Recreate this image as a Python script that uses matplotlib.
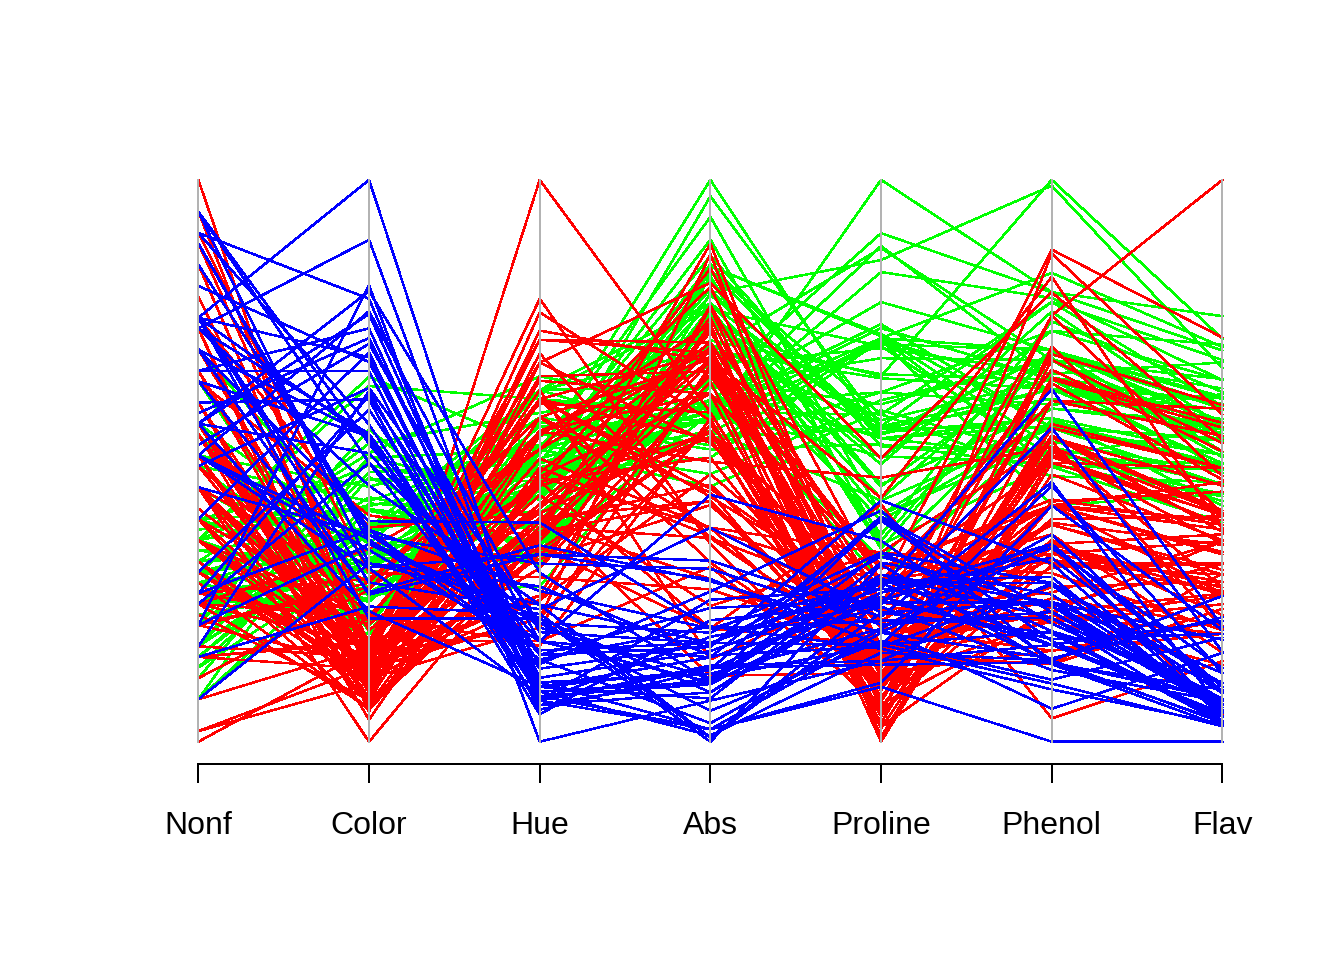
import matplotlib
matplotlib.use("Agg")
import matplotlib.pyplot as plt
import numpy as np

# Wine data (3 cultivars): columns shown in the parallel-coordinate plot
wine_class = [1] * 59 + [2] * 71 + [3] * 48

nonf = [
    .28, .26, .3, .24, .39, .34, .3, .31, .29, .22, .22, .26, .29, .43, .29, .3, .33, .4, .32, .17,
    .24, .25, .27, .26, .28, .47, .34, .27, .37, .26, .29, .22, .42, .5, .29, .26, .34, .29, .28, .2,
    .34, .27, .17, .32, .28, .3, .27, .21, .32, .32, .17, .22, .32, .39, .21, .2, .26, .31, .19,
    .28, .63, .53, .32, .19, .45, .37, .26, .27, .55, .14, .37, .21, .27, .21, .13, .34, .24, .43, .35,
    .43, .3, .26, .4, .61, .22, .3, .43, .4, .48, .42, .52, .5, .58, .25, .17, .32, .14, .29, .24,
    .45, .26, .29, .34, .37, .32, .66, .37, .48, .39, .29, .24, .26, .6, .42, .43, .52, .3, .34, .43,
    .37, .32, .47, .43, .3, .21, .37, .39, .58, .4, .42,
    .21, .24, .27, .17, .6, .63, .53, .63, .58, .53, .53, .37, .5, .47, .29, .43, .4, .47, .45, .34,
    .22, .24, .26, .61, .53, .61, .48, .63, .53, .52, .5, .5, .6, .4, .41, .52, .43, .4, .39, .27,
    .4, .48, .44, .52, .43, .43, .53, .56,
]

color = [
    5.64, 4.38, 5.68, 7.8, 4.32, 6.75, 5.25, 5.05, 5.2, 7.22, 5.75, 5, 5.6, 5.4, 7.5, 7.3, 6.2, 6.6, 8.7, 5.1,
    5.65, 4.5, 3.8, 3.93, 3.52, 3.58, 4.8, 3.95, 4.5, 4.7, 5.7, 6.9, 3.84, 5.4, 4.2, 5.1, 4.6, 4.25, 3.7, 5.1,
    6.13, 4.28, 5.43, 4.36, 5.04, 5.24, 4.9, 6.1, 6.2, 8.9, 7.2, 5.6, 7.05, 6.3, 5.85, 6.25, 6.38, 5.75, 6.8,
    1.95, 3.27, 5.75, 3.8, 4.45, 2.95, 4.6, 5.3, 4.68, 3.17, 2.85, 3.05, 3.38, 3.74, 3.35, 3.21, 3.8, 4.6, 2.65, 3.4,
    2.57, 2.5, 3.9, 2.2, 4.8, 3.05, 2.62, 2.45, 2.6, 2.8, 1.74, 2.4, 3.6, 3.05, 2.15, 3.25, 2.6, 2.5, 2.9, 4.5,
    2.3, 3.3, 2.45, 2.8, 2.06, 2.94, 2.7, 3.4, 3.3, 2.7, 2.65, 2.9, 2, 3.8, 3.08, 2.9, 1.9, 1.95, 2.06, 3.4,
    1.28, 3.25, 6, 2.08, 2.6, 2.8, 2.76, 3.94, 3, 2.12, 2.6,
    4.1, 5.4, 5.7, 5, 5.45, 7.1, 3.85, 5, 5.7, 4.92, 4.6, 5.6, 4.35, 4.4, 8.21, 4, 4.9, 7.65, 8.42, 9.4,
    8.6, 10.8, 7.1, 10.52, 7.6, 7.9, 9.01, 7.5, 13, 11.75, 7.65, 5.88, 5.58, 5.28, 9.58, 6.62, 10.68, 10.26, 8.66, 8.5,
    5.5, 9.9, 9.7, 7.7, 7.3, 10.2, 9.3, 9.2,
]

hue = [
    1.04, 1.05, 1.03, .86, 1.04, 1.05, 1.02, 1.06, 1.08, 1.01, 1.25, 1.17, 1.15, 1.25, 1.2, 1.28, 1.07, 1.13, 1.23, .96,
    1.09, 1.03, 1.11, 1.09, 1.12, 1.13, .92, 1.02, 1.25, 1.04, 1.19, 1.09, 1.23, 1.25, 1.1, 1.04, 1.09, 1.12, 1.18, .89,
    .95, .91, .88, .82, .88, .87, 1.04, .91, 1.07, 1.12, 1.12, 1.24, 1.01, 1.13, .92, .98, .94, 1.07, .89,
    1.05, 1.25, .98, 1.23, 1.22, 1.45, 1.19, 1.12, 1.12, 1.02, 1.28, .906, 1.36, .98, 1.31, .99, 1.23, 1.19, .96, 1.06,
    1.19, 1.38, 1.16, 1.31, .84, .79, 1.23, 1.33, 1.36, 1, 1.07, 1.08, 1.05, .96, 1.15, 1.16, 1.16, .95, 1.23, 1.04,
    1.42, 1.27, 1.04, .8, .94, 1.04, .86, 1, .88, .86, .96, .75, .9, 1.23, 1.1, .93, 1.71, .95, 1.06, .7,
    .93, .8, .93, .92, .73, .75, .86, .69, .97, .89, .79,
    .76, .74, .66, .78, .75, .73, .75, .82, .81, .89, .77, .7, .89, .91, .65, .6, .58, .54, .55, .57,
    .59, .48, .61, .56, .58, .6, .57, .67, .57, .57, .56, .96, .87, .68, .7, .78, .85, .72, .74, .67,
    .66, .57, .62, .64, .7, .59, .6, .61,
]

absorb = [
    3.92, 3.4, 3.17, 3.45, 2.93, 2.85, 3.58, 3.58, 2.85, 3.55, 3.17, 2.82, 2.9, 2.73, 3, 2.88, 2.65, 2.57, 2.82, 3.36,
    3.71, 3.52, 4, 3.63, 3.82, 3.2, 3.22, 2.77, 3.4, 3.59, 2.71, 2.88, 2.87, 3, 2.87, 3.47, 2.78, 2.51, 2.69, 3.53,
    3.38, 3, 3.56, 3, 3.35, 3.33, 3.44, 3.33, 2.75, 3.1, 2.91, 3.37, 3.26, 2.93, 3.2, 3.03, 3.31, 2.84, 2.87,
    1.82, 1.67, 1.59, 2.46, 2.87, 2.23, 2.3, 3.18, 3.48, 1.93, 3.07, 1.82, 3.16, 2.78, 3.5, 3.13, 2.14, 2.48, 2.52, 2.31,
    3.13, 3.12, 3.14, 2.72, 2.01, 3.08, 3.16, 2.26, 3.21, 2.75, 3.21, 2.27, 2.65, 2.06, 3.3, 2.96, 2.63, 2.26, 2.74, 2.77,
    2.83, 2.96, 2.77, 3.38, 2.44, 3.57, 3.3, 3.17, 2.42, 3.02, 3.26, 2.81, 2.78, 2.5, 2.31, 3.19, 2.87, 3.33, 2.96, 2.12,
    3.05, 3.39, 3.69, 3.12, 3.1, 3.64, 3.28, 2.84, 2.44, 2.78, 2.57,
    1.29, 1.42, 1.36, 1.29, 1.51, 1.58, 1.27, 1.69, 1.82, 2.15, 2.31, 2.47, 2.06, 2.05, 2, 1.68, 1.33, 1.86, 1.62, 1.33,
    1.3, 1.47, 1.33, 1.51, 1.55, 1.48, 1.64, 1.73, 1.96, 1.78, 1.58, 1.82, 2.11, 1.75, 1.68, 1.75, 1.56, 1.75, 1.8, 1.92,
    1.83, 1.63, 1.71, 1.74, 1.56, 1.56, 1.62, 1.6,
]

proline = [
    1065, 1050, 1185, 1480, 735, 1450, 1290, 1295, 1045, 1045, 1510, 1280, 1320, 1150, 1547, 1310, 1280, 1130, 1680, 845,
    780, 770, 1035, 1015, 845, 830, 1195, 1285, 915, 1035, 1285, 1515, 990, 1235, 1095, 920, 880, 1105, 1020, 760,
    795, 1035, 1095, 680, 885, 1080, 1065, 985, 1060, 1260, 1150, 1265, 1190, 1375, 1060, 1120, 970, 1270, 1285,
    520, 680, 450, 630, 420, 355, 678, 502, 510, 750, 718, 870, 410, 472, 985, 886, 428, 392, 500, 750,
    463, 278, 714, 630, 515, 520, 450, 495, 562, 680, 625, 480, 450, 495, 290, 345, 937, 625, 428, 660,
    406, 710, 562, 438, 415, 672, 315, 510, 488, 312, 680, 562, 325, 607, 434, 385, 407, 495, 345, 372,
    564, 625, 465, 365, 380, 380, 378, 352, 466, 342, 580,
    630, 530, 560, 600, 650, 695, 720, 515, 580, 590, 600, 780, 520, 550, 855, 830, 415, 625, 650, 550,
    500, 480, 425, 675, 640, 725, 480, 880, 660, 620, 520, 680, 570, 675, 615, 520, 695, 685, 750, 630,
    510, 470, 660, 740, 750, 835, 840, 560,
]

phenol = [
    2.8, 2.65, 2.8, 3.85, 2.8, 3.27, 2.5, 2.6, 2.8, 2.98, 2.95, 2.2, 2.6, 3.1, 3.3, 2.85, 2.8, 2.95, 3.3, 2.7,
    3, 2.41, 2.61, 2.48, 2.53, 2.63, 2.85, 2.4, 2.95, 2.65, 3, 2.86, 2.42, 2.95, 2.35, 2.7, 2.6, 2.45, 2.4, 3,
    3.15, 2.45, 3.25, 2.64, 3, 2.85, 3.25, 3.1, 2.75, 2.88, 2.72, 2.45, 3.88, 3, 2.6, 2.96, 3.2, 3, 3.4,
    1.98, 2.05, 2.02, 2.1, 3.5, 1.89, 2.42, 2.98, 2.11, 2.53, 1.85, 1.1, 2.95, 1.88, 3.3, 3.38, 1.61, 1.95, 1.72, 1.9,
    2.83, 2.42, 2.2, 2, 1.65, 2.2, 2.2, 1.78, 1.92, 1.95, 2.2, 1.6, 1.45, 1.38, 2.45, 3.02, 2.5, 1.6, 2.55, 3.52,
    2.85, 2.23, 1.45, 2.56, 2.5, 2.2, 1.68, 1.65, 1.38, 2.36, 2.74, 3.18, 2.55, 1.75, 2.48, 2.56, 2.46, 1.98, 2, 1.63,
    2, 2.9, 3.18, 2.2, 2.62, 2.86, 2.6, 2.74, 2.13, 2.22, 2.1,
    1.51, 1.3, 1.15, 1.7, 2, 1.62, 1.38, 1.79, 1.62, 2.32, 1.54, 1.4, 1.55, 2, 1.38, 1.5, .98, 1.7, 1.93, 1.41,
    1.4, 1.48, 2.2, 1.8, 1.48, 1.74, 1.8, 1.9, 2.8, 2.6, 2.3, 1.83, 1.65, 1.39, 1.35, 1.28, 1.7, 1.48, 1.55, 1.98,
    1.25, 1.39, 1.68, 1.68, 1.8, 1.59, 1.65, 2.05,
]

flav = [
    3.06, 2.76, 3.24, 3.49, 2.69, 3.39, 2.52, 2.51, 2.98, 3.15, 3.32, 2.43, 2.76, 3.69, 3.64, 2.91, 3.14, 3.4, 3.93, 3.03,
    3.17, 2.41, 2.88, 2.37, 2.61, 2.68, 2.94, 2.19, 2.97, 2.33, 3.25, 3.19, 2.69, 2.74, 2.53, 2.98, 2.68, 2.43, 2.64, 3.04,
    3.29, 2.68, 3.56, 2.63, 3, 2.65, 3.17, 3.39, 2.92, 3.54, 3.27, 2.99, 3.74, 2.79, 2.9, 2.78, 3, 3.23, 3.67,
    .57, 1.09, 1.41, 1.79, 3.1, 1.75, 2.65, 3.18, 2, 1.3, 1.28, 1.02, 2.86, 1.84, 2.89, 2.14, 1.57, 2.03, 1.32, 1.85,
    2.55, 2.26, 2.53, 1.58, 1.59, 2.21, 1.94, 1.69, 1.61, 1.69, 1.59, 1.5, 1.25, 1.46, 2.25, 2.26, 2.27, .99, 2.5, 3.75,
    2.99, 2.17, 1.36, 2.11, 1.64, 1.92, 1.84, 2.03, 1.76, 2.04, 2.92, 2.58, 2.27, 2.03, 2.01, 2.29, 2.17, 1.6, 2.09, 1.25,
    1.64, 2.79, 5.08, 2.13, 2.65, 3.03, 2.65, 3.15, 2.24, 2.45, 1.75,
    1.25, 1.22, 1.09, 1.2, .58, .66, .47, .6, .48, .6, .5, .5, .52, .8, .78, .55, .34, .65, .76, 1.39,
    1.57, 1.36, 1.28, .83, .58, .63, .83, .58, 1.31, 1.1, .92, .56, .6, .7, .68, .47, .92, .66, .84, .96,
    .49, .51, .7, .61, .75, .69, .68, .76,
]

var_names = ["Nonf", "Color", "Hue", "Abs", "Proline", "Phenol", "Flav"]
class_colors = {1: "#00FF00", 2: "#FF0000", 3: "#0000FF"}

data = np.column_stack([nonf, color, hue, absorb, proline, phenol, flav]).astype(float)
mins = data.min(axis=0)
maxs = data.max(axis=0)
scaled = (data - mins) / (maxs - mins)

plt.rcParams["font.family"] = ["Liberation Sans", "DejaVu Sans"]
fig = plt.figure(figsize=(7, 5), dpi=192)
ax = fig.add_axes([157.4 / 1344, 195.8 / 960, (1263.4 - 157.4) / 1344, (960 - 157.4 - 195.8) / 960])

xs = np.arange(1, len(var_names) + 1)
for i in range(scaled.shape[0]):
    ax.plot(xs, scaled[i], color=class_colors[wine_class[i]], lw=0.55,
            solid_joinstyle="round", solid_capstyle="round", antialiased=False)

for x in xs:
    ax.plot([x, x], [0, 1], color="#B3B3B3", lw=0.75, zorder=5, antialiased=False)

ax.set_xlim(0.76, 7.24)
ax.set_ylim(-0.04, 1.04)
for s in ["left", "top", "right"]:
    ax.spines[s].set_visible(False)
ax.spines["bottom"].set_bounds(1, 7)
ax.spines["bottom"].set_linewidth(0.75)
ax.spines["bottom"].set_antialiased(False)
ax.set_yticks([])
ax.set_xticks(xs)
ax.set_xticklabels(var_names, fontsize=12)
ax.tick_params(axis="x", direction="out", length=7.2, width=0.75, pad=10.2, colors="black")

fig.savefig("out.png", dpi=192)
